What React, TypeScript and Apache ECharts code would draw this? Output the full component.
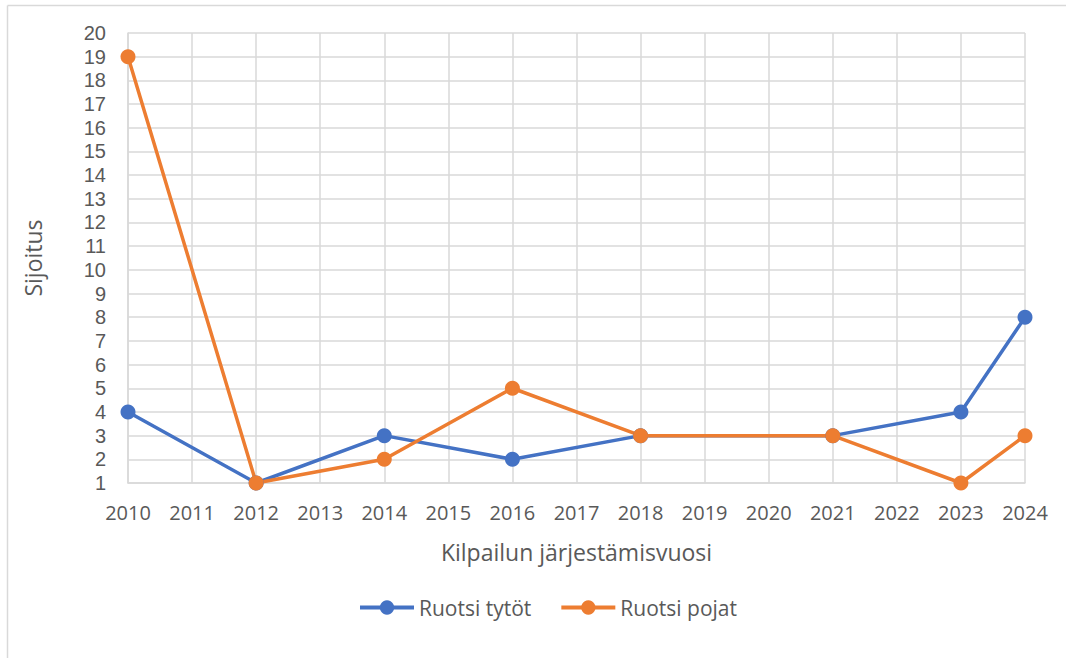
import React, { useEffect, useRef } from "react";
import * as echarts from "echarts";

const years = ["2010","2011","2012","2013","2014","2015","2016","2017","2018","2019","2020","2021","2022","2023","2024"];
const tytot = [4, null, 1, null, 3, null, 2, null, 3, null, null, 3, null, 4, 8];
const pojat = [19, null, 1, null, 2, null, 5, null, 3, null, null, 3, null, 1, 3];
const seriesNames = ["Ruotsi tytöt", "Ruotsi pojat"];
const colors = ["#4472C4", "#ED7D31"];

const FONT = "Open Sans";
const YFONT = "Liberation Sans";
const TEXT = "#595959";
const GRID = "#D9D9D9";

export default function App() {
  const ref = useRef<HTMLDivElement>(null);
  useEffect(() => {
    if (!ref.current) return;
    const chart = echarts.init(ref.current, null, { renderer: "svg" });
    chart.setOption({
      animation: false,
      backgroundColor: "#ffffff",
      textStyle: { fontFamily: FONT },
      graphic: [
        { type: "line", shape: { x1: 7.5, y1: 5.5, x2: 1066, y2: 5.5 }, style: { stroke: GRID, lineWidth: 1.5 } },
        { type: "line", shape: { x1: 7.5, y1: 5.5, x2: 7.5, y2: 658 }, style: { stroke: GRID, lineWidth: 1.5 } },
      ],
      grid: { left: 128, right: 41, top: 33, bottom: 175, containLabel: false },
      legend: {
        data: seriesNames,
        top: 597,
        left: 358,
        padding: 0,
        itemWidth: 54,
        itemHeight: 18,
        itemGap: 28,
        lineStyle: { width: 4 },
        textStyle: { color: TEXT, fontSize: 21, fontFamily: FONT },
      },
      xAxis: {
        type: "category",
        data: years,
        boundaryGap: false,
        name: "Kilpailun järjestämisvuosi",
        nameLocation: "middle",
        nameGap: 57,
        nameTextStyle: { color: TEXT, fontSize: 23, fontFamily: FONT },
        axisLine: { show: true, lineStyle: { color: GRID, width: 1.5 } },
        axisTick: { show: false },
        axisLabel: { color: TEXT, fontSize: 20, margin: 19, fontFamily: FONT, interval: 0 },
        splitLine: { show: true, lineStyle: { color: GRID, width: 1.5 } },
      },
      yAxis: {
        type: "value",
        min: 1,
        max: 20,
        interval: 1,
        name: "Sijoitus",
        nameLocation: "middle",
        nameGap: 84,
        nameTextStyle: { color: TEXT, fontSize: 23, fontFamily: FONT },
        axisLine: { show: true, lineStyle: { color: GRID, width: 1.5 } },
        axisTick: { show: false },
        axisLabel: { color: TEXT, fontSize: 20, lineHeight: 21, margin: 22, fontFamily: YFONT },
        splitLine: { show: true, lineStyle: { color: GRID, width: 1.5 } },
      },
      series: [
        {
          name: seriesNames[0],
          type: "line",
          data: tytot,
          connectNulls: true,
          symbol: "circle",
          symbolSize: 15,
          itemStyle: { color: colors[0] },
          lineStyle: { color: colors[0], width: 3.5 },
        },
        {
          name: seriesNames[1],
          type: "line",
          data: pojat,
          connectNulls: true,
          symbol: "circle",
          symbolSize: 15,
          itemStyle: { color: colors[1] },
          lineStyle: { color: colors[1], width: 3.5 },
        },
      ],
    });
    return () => chart.dispose();
  }, []);
  return (
    <div
      ref={ref}
      style={{ position: "fixed", left: 0, top: 0, width: 1066, height: 658 }}
    />
  );
}
